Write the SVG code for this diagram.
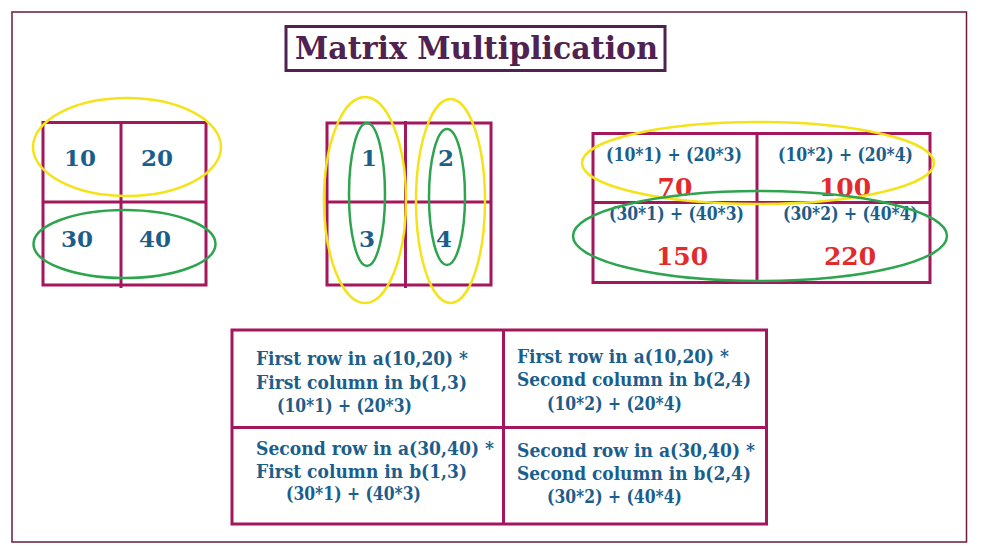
<svg xmlns="http://www.w3.org/2000/svg" width="987" height="555" viewBox="0 0 987 555">
<style>
.grid{fill:none;stroke:#a3175d;stroke-width:3}
.yel{fill:none;stroke:#f5e31a;stroke-width:2.5}
.grn{fill:none;stroke:#2ea44f;stroke-width:2.5}
.num{font-family:"DejaVu Serif","Liberation Serif",serif;font-weight:bold;font-size:23px;fill:#1b5e8c;text-anchor:middle}
.res{font-family:"DejaVu Serif","Liberation Serif",serif;font-weight:bold;font-size:25px;fill:#e22b2b;text-anchor:middle}
.txt{font-family:"DejaVu Serif","Liberation Serif",serif;font-weight:bold;font-size:18px;fill:#1b5e8c}
</style>
<rect width="987" height="555" fill="#fff"/>
<rect x="12" y="12" width="954.5" height="530" fill="none" stroke="#6b1a3a" stroke-width="1.5"/>
<g id="title">
<rect x="286" y="26.5" width="379" height="44" fill="none" stroke="#4f2250" stroke-width="3"/>
<text x="295" y="59" font-family="DejaVu Serif, Liberation Serif, serif" font-weight="bold" font-size="31" fill="#4f2250" textLength="363" lengthAdjust="spacingAndGlyphs">Matrix Multiplication</text>
</g>
<g id="matrix-a">
<rect class="grid" x="43" y="122.5" width="163" height="162.5"/>
<line class="grid" x1="121" y1="121" x2="121" y2="288"/>
<line class="grid" x1="43" y1="202" x2="206" y2="202"/>
<text class="num" x="80" y="166">10</text>
<text class="num" x="157" y="166">20</text>
<text class="num" x="77" y="247">30</text>
<text class="num" x="155" y="247">40</text>
<ellipse class="yel" cx="127" cy="147" rx="94" ry="49"/>
<ellipse class="grn" cx="124.5" cy="244" rx="91" ry="34"/>
</g>
<g id="matrix-b">
<rect class="grid" x="327" y="123" width="164" height="162"/>
<line class="grid" x1="405.5" y1="121" x2="405.5" y2="288"/>
<line class="grid" x1="327" y1="202" x2="491" y2="202"/>
<text class="num" x="369" y="166">1</text>
<text class="num" x="446" y="166">2</text>
<text class="num" x="367" y="247">3</text>
<text class="num" x="444" y="247">4</text>
<ellipse class="yel" cx="365" cy="200" rx="41" ry="103"/>
<ellipse class="yel" cx="450.5" cy="201" rx="34.5" ry="102"/>
<ellipse class="grn" cx="367" cy="194.5" rx="18" ry="71.5"/>
<ellipse class="grn" cx="447" cy="197" rx="18" ry="68"/>
</g>
<g id="matrix-c">
<rect class="grid" x="593" y="133.5" width="337" height="149"/>
<line class="grid" x1="757" y1="133.5" x2="757" y2="282.5"/>
<line class="grid" x1="593" y1="202.5" x2="930" y2="202.5"/>
<text class="txt" x="606" y="161" textLength="136" lengthAdjust="spacingAndGlyphs">(10*1) + (20*3)</text>
<text class="txt" x="778" y="161" textLength="135" lengthAdjust="spacingAndGlyphs">(10*2) + (20*4)</text>
<text class="res" x="675" y="196">70</text>
<text class="res" x="845" y="196">100</text>
<text class="txt" x="609" y="220" textLength="135" lengthAdjust="spacingAndGlyphs">(30*1) + (40*3)</text>
<text class="txt" x="783" y="220" textLength="135" lengthAdjust="spacingAndGlyphs">(30*2) + (40*4)</text>
<text class="res" x="682" y="265">150</text>
<text class="res" x="850" y="265">220</text>
<ellipse class="yel" cx="758" cy="163" rx="176" ry="41"/>
<ellipse class="grn" cx="760" cy="236" rx="187" ry="45"/>
</g>
<g id="explanation">
<rect class="grid" x="232" y="330" width="534.5" height="194"/>
<line class="grid" x1="503.5" y1="330" x2="503.5" y2="524"/>
<line class="grid" x1="232" y1="427.5" x2="766.5" y2="427.5"/>
<text class="txt" x="256" y="365" textLength="212" lengthAdjust="spacingAndGlyphs">First row in a(10,20) *</text>
<text class="txt" x="256" y="388.5" textLength="211" lengthAdjust="spacingAndGlyphs">First column in b(1,3)</text>
<text class="txt" x="277" y="412" textLength="135" lengthAdjust="spacingAndGlyphs">(10*1) + (20*3)</text>
<text class="txt" x="256" y="455" textLength="238" lengthAdjust="spacingAndGlyphs">Second row in a(30,40) *</text>
<text class="txt" x="256" y="477.5" textLength="211" lengthAdjust="spacingAndGlyphs">First column in b(1,3)</text>
<text class="txt" x="286" y="500" textLength="135" lengthAdjust="spacingAndGlyphs">(30*1) + (40*3)</text>
<text class="txt" x="517" y="362.5" textLength="212" lengthAdjust="spacingAndGlyphs">First row in a(10,20) *</text>
<text class="txt" x="517" y="386" textLength="234" lengthAdjust="spacingAndGlyphs">Second column in b(2,4)</text>
<text class="txt" x="547" y="409.5" textLength="135" lengthAdjust="spacingAndGlyphs">(10*2) + (20*4)</text>
<text class="txt" x="517" y="456.5" textLength="238" lengthAdjust="spacingAndGlyphs">Second row in a(30,40) *</text>
<text class="txt" x="517" y="479.5" textLength="234" lengthAdjust="spacingAndGlyphs">Second column in b(2,4)</text>
<text class="txt" x="547" y="502.5" textLength="135" lengthAdjust="spacingAndGlyphs">(30*2) + (40*4)</text>
</g>
<g id="connectors"/>
</svg>
